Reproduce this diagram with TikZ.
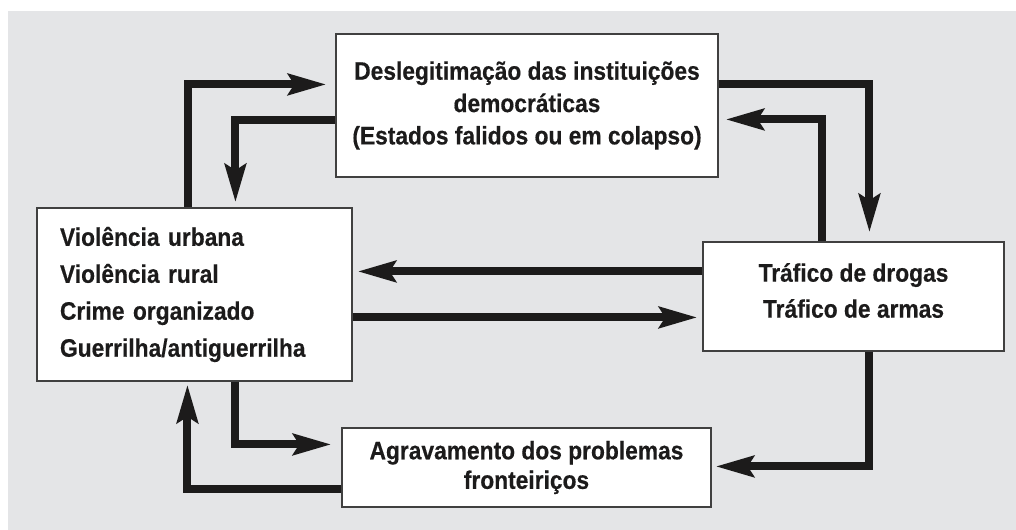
\documentclass[tikz,border=0pt]{standalone}
\usepackage{fontspec}
\setmainfont{Liberation Sans}[BoldFeatures={FakeStretch=0.9,FakeBold=0.4}]
\usetikzlibrary{arrows.meta}
\definecolor{fundo}{HTML}{E4E5E7}
\definecolor{tinta}{HTML}{1C1B1B}

\begin{document}
\begin{tikzpicture}[
	caixa/.style={draw=black!75, line width=0.8pt, fill=white, inner sep=0pt, text=tinta},
	texto/.style={text=tinta, inner sep=0pt, align=center},
	seta/.style={line width=5.7pt, color=tinta, -{Stealth[length=9.5mm,width=5.2mm,inset=1.5mm]}}
]
	\useasboundingbox (0,0) rectangle (25.4,13.25);
	\fill[fundo] (0.2,0) rectangle (25.4,12.975);   % background

	% boxes
	\node[caixa, minimum width=9.55cm, minimum height=3.575cm, align=center,
		font=\bfseries\fontsize{18}{23}\selectfont] (inst) at (13.175,10.6125)
		{Deslegitimação das instituições\\democráticas\\(Estados falidos ou em colapso)};
	\node[caixa, text width=6.725cm, inner xsep=0.575cm, minimum height=4.325cm, align=left,
		font=\bfseries\fontsize{18}{26.3}\selectfont] (viol) at (4.8625,5.8875)
		{Violência urbana\\Violência rural\\Crime organizado\\Guerrilha/antiguerrilha};
	\node[caixa, minimum width=7.525cm, minimum height=2.725cm] (traf) at (21.3375,5.8375) {};
	\node[texto, font=\bfseries\fontsize{18}{25.6}\selectfont] (trafTxt) at ([yshift=0.15cm]traf.center)
		{Tráfico de drogas\\Tráfico de armas};
	\node[caixa, minimum width=9.225cm, minimum height=1.975cm, align=center,
		font=\bfseries\fontsize{18}{21}\selectfont] (agr) at (13.1625,1.5625)
		{Agravamento dos problemas\\fronteiriços};

	% connectors
	\draw[seta, shorten >=0.225cm] ([xshift=3.8cm]viol.north west) |- ([yshift=-1.275cm]inst.north west);
	\draw[seta, shorten >=0.125cm] ([yshift=-2.175cm]inst.north west) -| ([xshift=4.975cm]viol.north west);
	\draw[seta, shorten >=0.225cm] ([yshift=-1.275cm]inst.north east) -| ([xshift=4.175cm]traf.north west);
	\draw[seta, shorten >=0.175cm] ([xshift=3cm]traf.north west) |- ([yshift=-2.15cm]inst.north east);

	\coordinate (t1) at ([yshift=-0.75cm]traf.north west);
	\coordinate (v1) at ([yshift=-2.75cm]viol.north east);
	\draw[seta, shorten >=0.125cm] (t1) -- (t1 -| viol.east);
	\draw[seta, shorten >=0.125cm] (v1) -- (v1 -| traf.west);

	\draw[seta, shorten >=0.1cm] ([xshift=4.175cm]traf.south west) |- ([yshift=-0.975cm]agr.north east);
	\draw[seta, shorten >=0.25cm] ([xshift=4.975cm]viol.south west) |- ([yshift=-0.425cm]agr.north west);
	\draw[seta, shorten >=0.075cm] ([yshift=-1.55cm]agr.north west) -| ([xshift=3.775cm]viol.south west);

\end{tikzpicture}
\end{document}
